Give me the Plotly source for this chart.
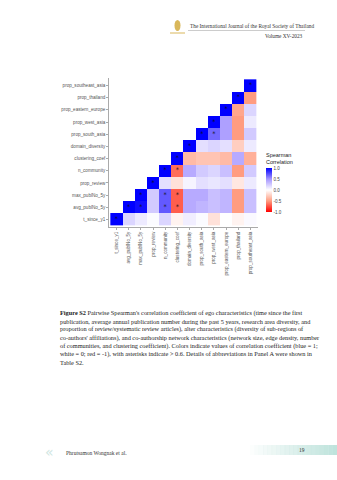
import plotly.graph_objects as go

variables = ["t_since_y1", "avg_publNo_5y", "max_publNo_5y", "prop_review",
             "n_community", "clustering_coef", "domain_diversity", "prop_south_asia",
             "prop_west_asia", "prop_eastern_europe", "prop_thailand", "prop_southeast_asia"]

# upper-triangle correlations: row i holds r(i, j) for j > i
upper = [
    [0.20, 0.10, 0.02, 0.20, -0.06, 0.08, 0.02, -0.15, 0.00, -0.06, 0.03],
    [0.95, 0.25, 0.70, -0.70, 0.40, 0.35, 0.30, 0.35, -0.50, 0.30],
    [0.25, 0.70, -0.70, 0.40, 0.40, 0.30, 0.35, -0.50, 0.30],
    [0.15, -0.15, 0.05, 0.15, 0.12, 0.15, -0.12, 0.10],
    [-0.65, 0.40, 0.25, 0.20, 0.30, -0.50, 0.25],
    [-0.35, -0.30, -0.30, -0.35, 0.40, -0.40],
    [0.15, 0.20, 0.15, -0.25, 0.10],
    [0.65, 0.45, -0.50, 0.25],
    [0.45, -0.50, 0.10],
    [-0.45, 0.20],
    [-0.50],
    [],
]
colorbar_ticks = [1.0, 0.5, 0.0, -0.5, -1.0]
star_threshold = 0.6

n = len(variables)
z = []
for i in range(n):
    row = []
    for j in range(n):
        if j < i:
            row.append(None)
        elif j == i:
            row.append(1.0)
        else:
            row.append(upper[i][j - i - 1])
    z.append(row)

sx, sy = [], []
for i in range(n):
    for j in range(n):
        v = z[i][j]
        if v is not None and abs(v) > star_threshold:
            sx.append(variables[j]); sy.append(variables[i])

W, H = 337, 480
def px(x): return x / W
def py(y): return 1 - y / H

fig = go.Figure()
fig.add_trace(go.Heatmap(
    z=z, x=variables, y=variables, zmin=-1, zmax=1,
    colorscale=[[0, "#ff0000"], [0.25, "#ff9c80"], [0.5, "#ffffff"],
                [0.75, "#a595ff"], [1, "#0000ff"]],
    hoverongaps=False,
    colorbar=dict(
        title=dict(text="Spearman<br>Correlation", side="top",
                   font=dict(size=5.5, color="#222", family="Liberation Sans")),
        x=px(266), xanchor="left", y=py(150), yanchor="top",
        len=62, lenmode="pixels", thickness=6, outlinewidth=0,
        tickvals=colorbar_ticks, ticktext=[f"{v:.1f}" for v in colorbar_ticks],
        tickfont=dict(size=4.5, color="#444", family="Liberation Sans"),
        ticks="", xpad=0, ypad=0,
    ),
))
fig.add_trace(go.Scatter(
    x=sx, y=sy, mode="text", text=["*"] * len(sx),
    textfont=dict(size=6.5, color="#111", family="DejaVu Sans"),
    hoverinfo="skip", showlegend=False,
))

axfont = dict(size=4.6, color="#555", family="Liberation Sans")
fig.update_layout(
    width=W, height=H, margin=dict(l=0, r=0, t=0, b=0),
    paper_bgcolor="white", plot_bgcolor="white", showlegend=False,
    xaxis=dict(domain=[px(109), px(258)], type="category", tickangle=-90,
               tickfont=axfont, showgrid=False, zeroline=False,
               showline=True, linecolor="#aaa", linewidth=0.6,
               ticks="outside", ticklen=2, tickcolor="#aaa", tickwidth=0.6,
               categoryorder="array", categoryarray=variables),
    yaxis=dict(domain=[py(227), py(78)], type="category",
               tickfont=axfont, showgrid=False, zeroline=False,
               showline=True, linecolor="#aaa", linewidth=0.6,
               ticks="outside", ticklen=2, tickcolor="#aaa", tickwidth=0.6,
               categoryorder="array", categoryarray=variables),
)

serif = "Liberation Serif"
ann = []
# header
ann.append(dict(x=px(188), y=py(26), text="The International Journal of the Royal Society of Thailand",
                xanchor="left", yanchor="middle", font=dict(size=5.3, family=serif, color="#333")))
ann.append(dict(x=px(305), y=py(35.5), text="Volume XV-2023",
                xanchor="right", yanchor="middle", font=dict(size=5.3, family=serif, color="#333")))
# caption
cap = [
    "<b>Figure S2</b> Pairwise Spearman's correlation coefficient of ego characteristics (time since the first",
    "publication, average annual publication number during the past 5 years, research area diversity, and",
    "proportion of review/systematic review articles), alter characteristics (diversity of sub-regions of",
    "co-authors' affiliations), and co-authorship network characteristics (network size, edge density, number",
    "of communities, and clustering coefficient). Colors indicate values of correlation coefficient (blue = 1;",
    "white = 0; red = -1), with asterisks indicate > 0.6. Details of abbreviations in Panel A were shown in",
    "Table S2.",
]
for k, line in enumerate(cap):
    ann.append(dict(x=px(58), y=py(313 + 8.2 * k), text=line, xanchor="left", yanchor="middle",
                    font=dict(size=6.3, family=serif, color="#222")))
# footer
ann.append(dict(x=px(50), y=py(452), text="«", xanchor="center", yanchor="middle",
                font=dict(size=14, family="DejaVu Sans", color="#cfe6e2")))
ann.append(dict(x=px(64), y=py(453), text="Phrutsamon Wongnak et al.", xanchor="left", yanchor="middle",
                font=dict(size=5.5, family=serif, color="#333")))
ann.append(dict(x=px(302), y=py(450), text="19", xanchor="center", yanchor="middle",
                font=dict(size=5.5, family=serif, color="#333")))
for a in ann:
    a.update(xref="paper", yref="paper", showarrow=False)
fig.update_layout(annotations=ann)

shapes = []
shapes.append(dict(type="line", xref="paper", yref="paper", x0=px(188), x1=px(305),
                   y0=py(30.5), y1=py(30.5), line=dict(color="#999", width=0.5)))
# logo
shapes.append(dict(type="circle", xref="paper", yref="paper", x0=px(174.5), x1=px(180.5),
                   y0=py(31), y1=py(20), fillcolor="#d9b75a", line=dict(width=0)))
shapes.append(dict(type="rect", xref="paper", yref="paper", x0=px(170), x1=px(185),
                   y0=py(33.5), y1=py(32.5), fillcolor="#d9b75a", line=dict(width=0)))
# footer gradient band
steps = 20
for s in range(steps):
    x0 = 250 + s * (87 / steps)
    shapes.append(dict(type="rect", xref="paper", yref="paper", x0=px(x0), x1=px(x0 + 87 / steps + 0.3),
                       y0=py(455), y1=py(445), fillcolor="#bfe3dc",
                       opacity=min(1, 0.05 + s / steps), line=dict(width=0), layer="below"))
fig.update_layout(shapes=shapes)

fig.write_html("out.html")
